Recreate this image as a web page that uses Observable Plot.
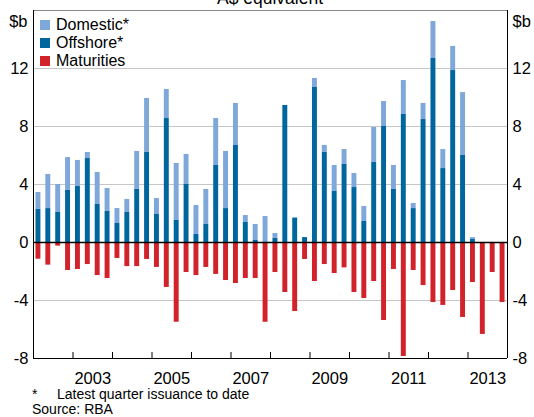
<!DOCTYPE html>
<html>
<head>
<meta charset="utf-8">
<script src="https://cdn.jsdelivr.net/npm/d3@7"></script>
<script src="https://cdn.jsdelivr.net/npm/@observablehq/plot@0.6"></script>
<style>
  html, body { margin: 0; padding: 0; background: #fff; }
  #wrap { position: relative; width: 534px; height: 417px; overflow: hidden; font-family: "Liberation Sans", Arial, sans-serif; color: #000; }
  .abs { position: absolute; white-space: nowrap; }
  .title { left: 0; width: 540px; text-align: center; top: -12px; font-size: 17.5px; line-height: 20px; }
  .unit { font-size: 16.5px; line-height: 18px; top: 12.3px; }
  .leg { left: 40px; font-size: 16px; line-height: 18px; }
  .leg span.sw { position: absolute; left: 0; top: 4px; width: 10px; height: 10px; }
  .leg span.tx { position: absolute; left: 16px; top: 0; }
  .foot { font-size: 14px; line-height: 15px; }
</style>
</head>
<body>
<div id="wrap">
  <div id="chart"></div>
</div>
<script>
// Quarters: 2002 Q1 .. 2013 Q4
const startYear = 2002;
const quarterCount = 48;

// Issuance, A$b (latest quarter is issuance to date); null = no data yet
const offshore = [
  2.28, 2.34, 2.07, 3.59, 3.86, 5.79, 2.62, 2.14, 1.31, 2.07, 3.66, 6.21,
  1.93, 8.55, 1.52, 4.00, 0.55, 1.24, 5.31, 2.34, 6.69, 1.38, 0.14, 0.00,
  0.28, 9.45, 1.66, 0.34, 10.69, 6.21, 3.52, 5.38, 3.79, 1.45, 5.52, 8.00,
  3.66, 8.83, 2.34, 8.48, 12.69, 5.10, 11.86, 6.00, 0.21, null, null, null
];
const domestic = [
  1.17, 2.35, 1.93, 2.27, 1.80, 0.42, 2.21, 1.58, 1.03, 0.90, 2.62, 3.72,
  1.10, 2.00, 3.93, 2.07, 2.00, 2.42, 3.24, 3.94, 2.90, 0.48, 1.10, 1.79,
  0.34, 0.00, 0.06, 0.00, 0.62, 0.48, 1.79, 1.03, 0.97, 1.03, 2.41, 1.72,
  1.65, 2.34, 0.35, 1.11, 2.55, 1.31, 1.66, 4.34, 0.13, null, null, null
];
const maturities = [
  -1.15, -1.56, -0.25, -1.93, -1.86, -1.52, -2.28, -2.48, -1.10, -1.66, -1.66, -1.17,
  -1.72, -3.10, -5.50, -2.07, -2.28, -1.72, -2.20, -2.62, -2.83, -2.48, -2.48, -5.50,
  -2.07, -3.45, -4.76, -1.17, -2.69, -1.52, -2.14, -1.75, -3.45, -3.86, -2.69, -5.38,
  -1.86, -7.86, -1.93, -2.97, -4.14, -4.34, -3.31, -5.17, -2.76, -6.34, -2.07, -4.14
];

const seriesNames = ["Domestic*", "Offshore*", "Maturities"];
const seriesColors = ["#7fa8da", "#00669e", "#d2232a"];
const yTicks = [-8, -4, 0, 4, 8, 12];
const gridValues = [-4, 4, 8, 12];
const yearTicks = [2003, 2004, 2005, 2006, 2007, 2008, 2009, 2010, 2011, 2012, 2013];
const yearLabels = [2003, 2005, 2007, 2009, 2011, 2013];

// Build bar table
const halfWidth = 0.0625; // half of bar width in years
const bars = [];
for (let i = 0; i < quarterCount; i++) {
  const c = startYear + (i + 0.5) / 4;
  const off = offshore[i], dom = domestic[i], mat = maturities[i];
  if (off != null) {
    bars.push({c, y1: 0, y2: off, s: "Offshore*"});
    if (dom) bars.push({c, y1: off, y2: off + dom, s: "Domestic*"});
  }
  if (mat != null) bars.push({c, y1: 0, y2: mat, s: "Maturities"});
}

const chart = Plot.plot({
  width: 534,
  height: 390,
  marginLeft: 33,
  marginRight: 27,
  marginTop: 10,
  marginBottom: 32,
  x: {type: "linear", domain: [startYear, startYear + quarterCount / 4], label: null},
  y: {domain: [-8, 16], label: null},
  color: {domain: seriesNames, range: seriesColors},
  style: {fontFamily: "'Liberation Sans', Arial, sans-serif", fontSize: "16.5px", background: "transparent", color: "#000", overflow: "visible"},
  marks: [
    Plot.ruleY(gridValues, {stroke: "#c6c6c6", strokeWidth: 1}),
    Plot.rectY(bars, {x1: d => d.c - halfWidth, x2: d => d.c + halfWidth, y1: d => d.y1, y2: d => d.y2, fill: d => d.s}),
    Plot.ruleY([0], {stroke: "#000", strokeWidth: 1.4}),
    Plot.ruleY([16], {stroke: "#8a8a8a", strokeWidth: 1}),
    Plot.ruleY([-8], {stroke: "#000", strokeWidth: 1}),
    Plot.ruleX([startYear, startYear + quarterCount / 4], {stroke: "#000", strokeWidth: 1}),
    Plot.axisX(yearTicks, {tickSize: -6, tickFormat: () => "", stroke: "#000"}),
    Plot.axisX(yearLabels.map(y => y + 0.5), {tickSize: 0, tickPadding: 14, tickFormat: d => String(Math.floor(d)), fill: "#000"}),
    Plot.axisY(yTicks, {anchor: "left", tickSize: 0, tickPadding: 5, tickFormat: d => String(d), fill: "#000"}),
    Plot.axisY(yTicks, {anchor: "right", tickSize: 0, tickPadding: 5, tickFormat: d => String(d), fill: "#000"})
  ]
});
document.getElementById("chart").appendChild(chart);

const wrap = document.getElementById("wrap");
function addDiv(cls, html, style) {
  const d = document.createElement("div");
  d.className = "abs " + cls;
  d.innerHTML = html;
  Object.assign(d.style, style || {});
  wrap.appendChild(d);
  return d;
}
addDiv("title", "A$ equivalent");
addDiv("unit", "$b", {left: "0px", width: "27.5px", textAlign: "right"});
addDiv("unit", "$b", {left: "512.5px"});
seriesNames.forEach((name, i) => {
  addDiv("leg", `<span class="sw" style="background:${seriesColors[i]}"></span><span class="tx">${name}</span>`,
    {top: (15.5 + i * 18) + "px", height: "18px", width: "120px"});
});
addDiv("foot", "*", {left: "32px", top: "386.6px"});
addDiv("foot", "Latest quarter issuance to date", {left: "57px", top: "386.6px"});
addDiv("foot", "Source: RBA", {left: "32px", top: "401.6px"});
</script>
</body>
</html>
